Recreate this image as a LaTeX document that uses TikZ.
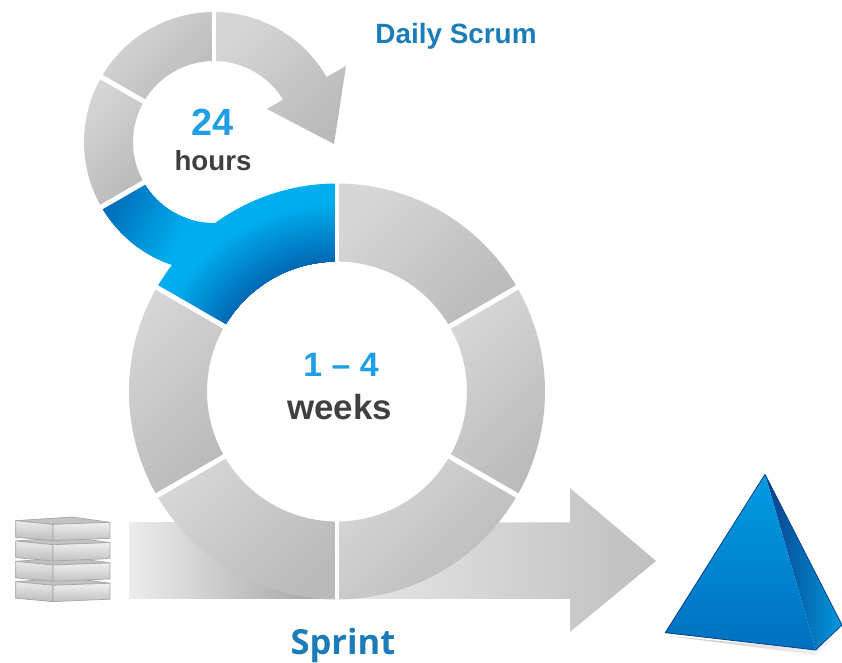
\documentclass[tikz,border=0pt]{standalone}
\usepackage{fontspec}
\setmainfont{Liberation Sans}
\newfontfamily\sprintfont{Open Sans}
\usetikzlibrary{calc}
\definecolor{cyanb}{HTML}{00AEEF}
\definecolor{darkb}{HTML}{0068B4}
\definecolor{titleb}{HTML}{1B7DB8}
\definecolor{numb}{HTML}{1E9FE6}
\definecolor{darktxt}{HTML}{404040}
\definecolor{gl}{HTML}{D6D6D6}
\definecolor{gd}{HTML}{BABABA}
\definecolor{pyredge}{HTML}{0A3F8A}
\definecolor{pyrtop}{HTML}{009CE2}
\definecolor{pyrbot}{HTML}{0070C0}
\tikzset{
  seg/.style={top color=gl,bottom color=gd,shading angle=45},
  gap/.style={draw=white,line width=5pt},
  lbl/.style={font=\bfseries,inner sep=0pt},
  diskline/.style={draw=black!35,line width=0.7pt,line join=round}
}
\newcommand{\ringseg}[5]{% centre, from, to, inner, outer
  \shade[seg] ($(#1)+(#2:#5)$) arc (#2:#3:#5) -- ($(#1)+(#3:#4)$) arc (#3:#2:#4) -- cycle;}
\newcommand{\diskbox}[1]{%
  \fill[diskline,fill=black!24] (15.7,{663-520.7-#1}) -- (72,{663-517-#1}) -- (110,{663-522.3-#1}) -- (53,{663-524.4-#1}) -- cycle;
  \shade[diskline,top color=black!8,bottom color=black!26] (15.7,{663-520.7-#1}) -- (53,{663-524.4-#1}) -- (53,{663-540.7-#1}) -- (15.7,{663-537.3-#1}) -- cycle;
  \shade[diskline,top color=black!6,bottom color=black!24] (53,{663-524.4-#1}) -- (110,{663-522.3-#1}) -- (110,{663-538.3-#1}) -- (53,{663-540.7-#1}) -- cycle;}
\begin{document}
\begin{tikzpicture}[x=1bp,y=1bp]
\useasboundingbox (0,0) rectangle (842,663);
\coordinate (big) at (337,271.5);
\coordinate (small) at (214,521);
% input stack
\diskbox{60.9}\diskbox{40.6}\diskbox{20.3}\diskbox{0}
% big arrow
\shade[left color=black!7,right color=black!38] (129,140.5) rectangle (337,64);
\shade[left color=black!9,right color=black!25] (337,140.5) -- (570,140.5) -- (570,175) -- (656,102) -- (570,31) -- (570,64) -- (337,64) -- cycle;
% big ring
\ringseg{big}{90}{30}{130}{208}
\ringseg{big}{30}{-30}{130}{208}
\ringseg{big}{-30}{-90}{130}{208}
\ringseg{big}{-90}{-150}{130}{208}
\ringseg{big}{-150}{-210}{130}{208}
% small ring
\ringseg{small}{90}{150}{81}{130}
\ringseg{small}{150}{210}{81}{130}
\shade[seg] (small)++(90:130) arc (90:30:130) -- (346,597) -- (334,519) -- (267,554) -- (284,564) -- ($(small)+(30:81)$) arc (30:90:81) -- cycle;
% blue piece
\begin{scope}
  \clip ($(big)+(90:208)$) arc (90:125.9:208)
     -- ($(small)+(270.7:81)$) arc (270.7:210:81)
     -- ($(small)+(210:130)$) arc (210:251.1:130)
     -- ($(big)+(142.5:208)$) arc (142.5:150:208)
     -- ($(big)+(150:130)$) arc (150:90:130) -- cycle;
  \fill[cyanb] (90,300) rectangle (340,490);
  \begin{scope}[transform canvas={shift={(101,456)},rotate=-28}]
    \shade[left color=darkb,right color=cyanb] (0,-150) rectangle (85,150);
  \end{scope}
  \foreach \r in {0,...,30}{
    \pgfmathsetmacro{\mixv}{100-\r*100/30}
    \fill[cyanb!\mixv!darkb] (big) circle ({190-\r*2});
  }
\end{scope}
% segment gaps
\draw[gap] ($(big)+(90:125)$) -- ($(big)+(90:212)$);
\draw[gap] ($(big)+(30:125)$) -- ($(big)+(30:212)$);
\draw[gap] ($(big)+(-30:125)$) -- ($(big)+(-30:212)$);
\draw[gap] ($(big)+(-90:125)$) -- ($(big)+(-90:212)$);
\draw[gap] ($(big)+(-150:125)$) -- ($(big)+(-150:212)$);
\draw[gap] ($(big)+(150:125)$) -- ($(big)+(150:212)$);
\draw[gap] ($(small)+(90:78)$) -- ($(small)+(90:133)$);
\draw[gap] ($(small)+(150:78)$) -- ($(small)+(150:133)$);
\draw[gap] ($(small)+(210:78)$) -- ($(small)+(210:133)$);
% pyramid
\shade[left color=black!22,right color=black!3] (668,27) -- (815,8) -- (842,32) -- (815.7,13) -- cycle;
\shade[left color=pyredge,right color=cyanb!70!darkb] (765,188.7) -- (842,38) -- (815.7,13) -- cycle;
\shade[top color=pyrtop,bottom color=pyrbot] (765,188.7) -- (815.7,13) -- (665.3,30.3) -- cycle;
\draw[draw=pyredge,line width=0.8pt,line join=round] (842,38) -- (815.7,13) -- (665.3,30.3) -- (765,188.7) -- (842,38);
% labels
\node[lbl,text=titleb,font=\bfseries\fontsize{28}{28}\selectfont] (daily) at (456,627) {Daily Scrum};
\node[lbl,text=numb,font=\bfseries\fontsize{38}{38}\selectfont] (hnum) at (213,541) {24};
\node[lbl,text=darktxt,font=\bfseries\fontsize{27.8}{28}\selectfont] (hours) at (213,502) {hours};
\node[lbl,text=numb,font=\bfseries\fontsize{34}{34}\selectfont] (wnum) at (341,298) {1 – 4};
\node[lbl,text=darktxt,font=\bfseries\fontsize{35}{35}\selectfont] (weeks) at (339.5,256) {weeks};
\node[lbl,text=titleb,font=\sprintfont\bfseries\fontsize{34.7}{35}\selectfont] (sprint) at (343,17) {Sprint};
\end{tikzpicture}
\end{document}
